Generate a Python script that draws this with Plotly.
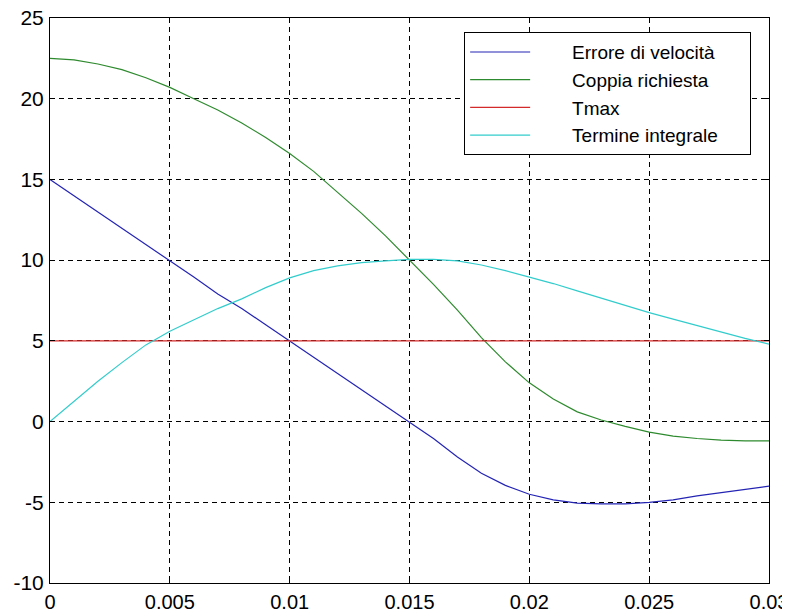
import plotly.graph_objects as go

t = [i * 0.001 for i in range(31)]

errore_velocita = [15, 14.0, 13.0, 12.0, 11.0, 10.0, 8.95, 7.9, 7.0, 6.0, 5.0,
                   4.0, 3.0, 2.0, 1.0, 0.0, -1.05, -2.2, -3.2, -3.95, -4.5,
                   -4.85, -5.05, -5.1, -5.1, -5.0, -4.85, -4.6, -4.4, -4.2, -4.0]

coppia_richiesta = [22.5, 22.4, 22.15, 21.8, 21.3, 20.7, 20.0, 19.3, 18.5, 17.6, 16.6,
                    15.5, 14.2, 12.9, 11.5, 10.0, 8.5, 6.9, 5.2, 3.7, 2.4,
                    1.4, 0.6, 0.1, -0.3, -0.65, -0.9, -1.05, -1.15, -1.2, -1.2]

tmax = [5.0] * 31

termine_integrale = [0, 1.25, 2.5, 3.65, 4.75, 5.6, 6.3, 7.0, 7.6, 8.3, 8.9,
                     9.35, 9.65, 9.85, 9.95, 10.05, 10.05, 9.95, 9.7, 9.35, 8.95,
                     8.55, 8.1, 7.65, 7.2, 6.75, 6.35, 5.95, 5.55, 5.15, 4.8]

series_names = ["Errore di velocità", "Coppia richiesta", "Tmax", "Termine integrale"]
series_values = [errore_velocita, coppia_richiesta, tmax, termine_integrale]
series_colors = ["#2424b4", "#2e8a2e", "#d42a2a", "#33cccc"]

x_ticks = [0, 0.005, 0.01, 0.015, 0.02, 0.025, 0.03]
x_tick_labels = ["0", "0.005", "0.01", "0.015", "0.02", "0.025", "0.03"]
y_ticks = [-10, -5, 0, 5, 10, 15, 20, 25]
y_tick_labels = ["-10", "-5", "0", "5", "10", "15", "20", "25"]

NB = "\u00a0"
fig = go.Figure()
for name, vals, col in zip(series_names, series_values, series_colors):
    fig.add_trace(go.Scatter(x=t, y=vals, mode="lines", name=NB * 7 + name + NB * 5,
                             line=dict(color=col, width=1.2)))

font_fam = "Liberation Sans, Arial, sans-serif"
axis_common = dict(
    showline=True, linecolor="black", linewidth=1, mirror="ticks",
    ticks="inside", ticklen=5, tickcolor="black",
    showgrid=True, gridcolor="black", griddash="5px,4px", gridwidth=1,
    zeroline=False, automargin=False, ticklabeloverflow="allow",
    tickfont=dict(family=font_fam, size=21, color="black"),
)

fig.update_xaxes(range=[0, 0.03], tickvals=x_ticks, ticktext=x_tick_labels,
                 ticklabelstandoff=1, **axis_common)
fig.update_xaxes(tickfont=dict(family=font_fam, size=20, color="black"))
fig.update_yaxes(range=[-10, 25], tickvals=y_ticks, ticktext=y_tick_labels,
                 ticklabelstandoff=1, **axis_common)

# page body has an 8px margin, so the figure is sized to end at the window edge
fig.update_layout(
    width=782, height=606,
    margin=dict(l=42, r=21, t=10, b=31),
    paper_bgcolor="white", plot_bgcolor="white",
    showlegend=True,
    legend=dict(
        x=0.576, y=0.975, xanchor="left", yanchor="top",
        bgcolor="white", bordercolor="black", borderwidth=1,
        font=dict(family=font_fam, size=19, color="black"),
        tracegroupgap=0, itemwidth=60,
    ),
)

fig.write_html("out.html")
